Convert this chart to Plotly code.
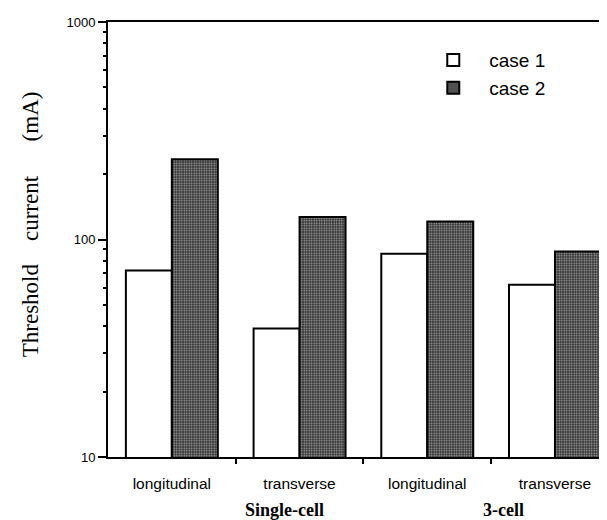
import plotly.graph_objects as go

categories = ["longitudinal", "transverse", "longitudinal", "transverse"]
groups = ["Single-cell", "3-cell"]
group_pos = [0.88, 2.6]
case1 = [72, 39, 86, 62]
case2 = [234, 127, 121, 88]
ytick_vals = [10, 100, 1000]
ytick_text = ["10", "100", "1000"]

xpos = list(range(len(categories)))

fig = go.Figure()
fig.add_trace(go.Bar(
    x=xpos, y=case1, name="case 1",
    marker=dict(color="white", line=dict(color="black", width=2)),
))
fig.add_trace(go.Bar(
    x=xpos, y=case2, name="case 2",
    marker=dict(color="#3c3c3c", line=dict(color="black", width=2),
                pattern=dict(shape=".", fgcolor="#b4b4b4", bgcolor="#333333",
                             size=2.5, solidity=0.3, fillmode="replace")),
))

minor_y = [m * 10 ** e for e in (1, 2) for m in range(2, 10)]

fig.update_layout(
    width=607, height=520,
    margin=dict(l=100, r=0, t=14, b=71),
    paper_bgcolor="white", plot_bgcolor="white",
    barmode="group", bargap=0.28, bargroupgap=0,
    font=dict(family="Liberation Sans, Arial, sans-serif", size=14, color="black"),
    legend=dict(x=0.61, y=0.956, xanchor="left", yanchor="top",
                font=dict(size=19, family="Liberation Sans, Arial, sans-serif"),
                bgcolor="rgba(0,0,0,0)", itemwidth=62, tracegroupgap=0),
    showlegend=True,
)
fig.update_xaxes(
    range=[-0.5, 3.47],
    tickmode="array", tickvals=xpos, ticktext=categories,
    ticks="", ticklabelstandoff=11,
    showline=True, linecolor="black", linewidth=2,
    mirror=True, showgrid=False, zeroline=False,
    tickfont=dict(size=15.5, family="Liberation Sans, Arial, sans-serif"),
    minor=dict(tickmode="array", tickvals=[0.5, 1.5, 2.5], ticks="outside",
               ticklen=5, tickwidth=2, tickcolor="black", showgrid=False),
)
fig.update_yaxes(
    type="log", range=[1, 3],
    tickmode="array", tickvals=ytick_vals, ticktext=ytick_text,
    ticks="outside", ticklen=8, tickwidth=1.5, tickcolor="black",
    showline=True, linecolor="black", linewidth=2, showgrid=False,
    zeroline=False, tickfont=dict(size=13),
    minor=dict(tickmode="array", tickvals=minor_y, ticks="outside",
               ticklen=3, tickwidth=1.5, tickcolor="black", showgrid=False),
)

fig.add_annotation(
    text="Threshold&nbsp;&nbsp;&nbsp; current&nbsp;&nbsp;&nbsp;&nbsp;&nbsp; (mA)",
    xref="paper", yref="paper", x=0, y=0.535, xanchor="center", yanchor="middle",
    xshift=-78, textangle=-90, showarrow=False,
    font=dict(family="Liberation Serif, Times New Roman, serif", size=23, color="black"),
)
for g, gx in zip(groups, group_pos):
    fig.add_annotation(
        text="<b>%s</b>" % g, xref="x", yref="paper",
        x=gx, y=0, yanchor="middle", yshift=-53, showarrow=False,
        font=dict(family="Liberation Serif, Times New Roman, serif", size=18, color="black"),
    )

fig.write_html("out.html")
